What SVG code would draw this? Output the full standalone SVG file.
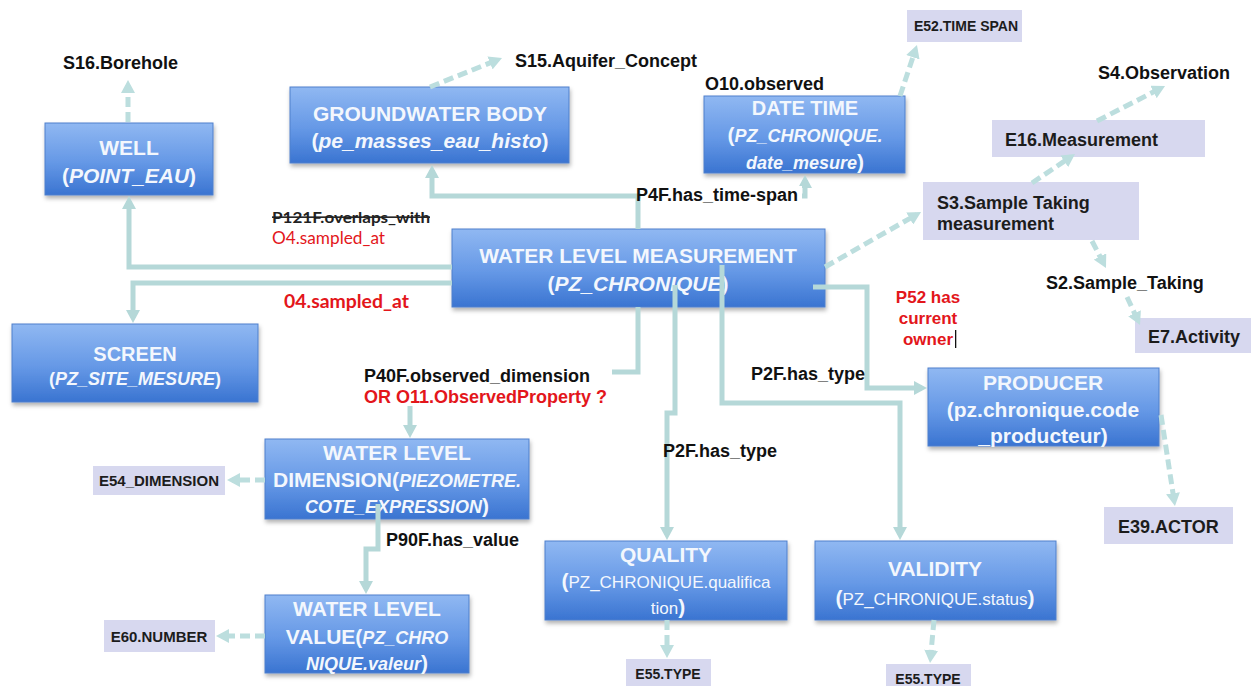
<svg xmlns="http://www.w3.org/2000/svg" width="1251" height="686" viewBox="0 0 1251 686">
  <defs>
    <linearGradient id="blueFill" x1="0" y1="0" x2="0" y2="1">
      <stop offset="0" stop-color="#90b8f2"/>
      <stop offset="0.55" stop-color="#6598e6"/>
      <stop offset="1" stop-color="#3a74d1"/>
    </linearGradient>
    <filter id="shadow" x="-5%" y="-10%" width="112%" height="135%">
      <feDropShadow dx="1" dy="3" stdDeviation="2" flood-color="#000" flood-opacity="0.3"/>
    </filter>
    <marker id="arrow" viewBox="0 0 13 14" refX="8" refY="7" markerWidth="13" markerHeight="14" markerUnits="userSpaceOnUse" orient="auto">
      <path d="M0,0 L13,7 L0,14 Z" fill="#b5d8d8"/>
    </marker>
    <marker id="arrowDash" viewBox="0 0 13 14" refX="8" refY="7" markerWidth="13" markerHeight="14" markerUnits="userSpaceOnUse" orient="auto">
      <path d="M0,0 L13,7 L0,14 Z" fill="#bcdede"/>
    </marker>
  </defs>
  <style>
    .box { fill: url(#blueFill); stroke: #4f80cc; stroke-width: 1; filter: url(#shadow); }
    .tag { fill: #d7d8ef; }
    .t { font-family: "Liberation Sans", Arial, sans-serif; font-weight: bold; font-size: 21px; fill: #f3f7fd; text-anchor: middle; }
    .i { font-style: italic; }
    .n { font-weight: normal; }
    .lbl { font-family: "Liberation Sans", Arial, sans-serif; font-weight: bold; font-size: 18px; fill: #111; }
    .tt { font-family: "Liberation Sans", Arial, sans-serif; font-weight: bold; fill: #1c1c1c; }
    .red { fill: #e3161b; }
    .cal { font-family: Lato, "Open Sans", sans-serif; }
    .solid { fill: none; stroke: #b5d8d8; stroke-width: 5; marker-end: url(#arrow); }
    .dash { fill: none; stroke: #bcdede; stroke-width: 5; stroke-dasharray: 10 5; marker-end: url(#arrowDash); }
  </style>
  <rect width="1251" height="686" fill="#ffffff"/>

  <!-- main nodes -->
  <g id="well">
    <rect class="box" x="45" y="123" width="168" height="72"/>
    <text class="t" x="129" y="155">WELL</text>
    <text class="t" x="129" y="183">(<tspan class="i">POINT_EAU</tspan>)</text>
  </g>
  <g id="groundwater-body">
    <rect class="box" x="290" y="87" width="279" height="76"/>
    <text class="t" x="430" y="120.5">GROUNDWATER BODY</text>
    <text class="t" x="430" y="147.5">(<tspan class="i">pe_masses_eau_histo</tspan>)</text>
  </g>
  <g id="date-time">
    <rect class="box" x="704" y="96" width="201" height="77"/>
    <text class="t" x="805" y="115" style="font-size:20px">DATE TIME</text>
    <text class="t" x="805" y="141.5">(<tspan class="i" style="font-size:18px">PZ_CHRONIQUE.</tspan></text>
    <text class="t" x="805" y="168.5"><tspan class="i" style="font-size:18px">date_mesure</tspan>)</text>
  </g>
  <g id="water-level-measurement">
    <rect class="box" x="452" y="229" width="373" height="78"/>
    <text class="t" x="638" y="262.5">WATER LEVEL MEASUREMENT</text>
    <text class="t" x="638" y="290.5">(<tspan class="i">PZ_CHRONIQUE</tspan>)</text>
  </g>
  <g id="screen">
    <rect class="box" x="12" y="324" width="246" height="78"/>
    <text class="t" x="135" y="361" style="font-size:20px">SCREEN</text>
    <text class="t" x="135" y="384.5" style="font-size:18px">(<tspan class="i">PZ_SITE_MESURE</tspan>)</text>
  </g>
  <g id="producer">
    <rect class="box" x="928" y="368" width="231" height="78"/>
    <text class="t" x="1043" y="389.5">PRODUCER</text>
    <text class="t" x="1043" y="416.5">(pz.chronique.code</text>
    <text class="t" x="1043" y="442.5">_producteur)</text>
  </g>
  <g id="water-level-dimension">
    <rect class="box" x="265" y="439" width="264" height="80"/>
    <text class="t" x="397" y="459.5">WATER LEVEL</text>
    <text class="t" x="397" y="486.5">DIMENSION(<tspan class="i" style="font-size:18px">PIEZOMETRE.</tspan></text>
    <text class="t" x="397" y="512.5"><tspan class="i" style="font-size:18px">COTE_EXPRESSION</tspan>)</text>
  </g>
  <g id="water-level-value">
    <rect class="box" x="265" y="595" width="204" height="78"/>
    <text class="t" x="367" y="615.5">WATER LEVEL</text>
    <text class="t" x="367" y="644">VALUE(<tspan class="i" style="font-size:18px">PZ_CHRO</tspan></text>
    <text class="t" x="367" y="670"><tspan class="i" style="font-size:18px">NIQUE.valeur</tspan>)</text>
  </g>
  <g id="quality">
    <rect class="box" x="545" y="541" width="242" height="79"/>
    <text class="t" x="666" y="561.5">QUALITY</text>
    <text class="t" x="666" y="588">(<tspan class="n" style="font-size:17px">PZ_CHRONIQUE.qualifica</tspan></text>
    <text class="t" x="668" y="614"><tspan class="n" style="font-size:17px">tion</tspan>)</text>
  </g>
  <g id="validity">
    <rect class="box" x="815" y="541" width="241" height="79"/>
    <text class="t" x="935" y="575.5">VALIDITY</text>
    <text class="t" x="935" y="605">(<tspan class="n" style="font-size:17px">PZ_CHRONIQUE.status</tspan>)</text>
  </g>

  <!-- class tags -->
  <g id="e52-time-span">
    <rect class="tag" x="907" y="10" width="115" height="32"/>
    <text class="tt" x="914" y="31" style="font-size:14px">E52.TIME SPAN</text>
  </g>
  <g id="e16-measurement">
    <rect class="tag" x="992" y="120" width="213" height="37"/>
    <text class="tt" x="1005" y="145.5" style="font-size:18px">E16.Measurement</text>
  </g>
  <g id="s3-sample-taking-measurement">
    <rect class="tag" x="923" y="182" width="216" height="58"/>
    <text class="tt" x="937" y="208.5" style="font-size:18px">S3.Sample Taking</text>
    <text class="tt" x="937" y="229.5" style="font-size:18px">measurement</text>
  </g>
  <g id="e7-activity">
    <rect class="tag" x="1135" y="318" width="116" height="35"/>
    <text class="tt" x="1148" y="342.5" style="font-size:18px">E7.Activity</text>
  </g>
  <g id="e39-actor">
    <rect class="tag" x="1104" y="507" width="129" height="37"/>
    <text class="tt" x="1118" y="532.5" style="font-size:18px">E39.ACTOR</text>
  </g>
  <g id="e54-dimension">
    <rect class="tag" x="93" y="466" width="132" height="29"/>
    <text class="tt" x="159" y="485.5" style="font-size:15px" text-anchor="middle">E54_DIMENSION</text>
  </g>
  <g id="e60-number">
    <rect class="tag" x="104" y="620" width="111" height="32"/>
    <text class="tt" x="159" y="641.5" style="font-size:15px" text-anchor="middle">E60.NUMBER</text>
  </g>
  <g id="e55-type-quality">
    <rect class="tag" x="626" y="659" width="85" height="32"/>
    <text class="tt" x="668" y="679" style="font-size:14px" text-anchor="middle">E55.TYPE</text>
  </g>
  <g id="e55-type-validity">
    <rect class="tag" x="886" y="664" width="85" height="32"/>
    <text class="tt" x="928" y="684" style="font-size:14px" text-anchor="middle">E55.TYPE</text>
  </g>

  <!-- connectors -->
  <g id="connectors">
    <path class="solid" d="M452,267 H129 V201"/>
    <path class="solid" d="M452,283 H133 V318"/>
    <path class="solid" d="M638,229 V196 H432 V170"/>
    <path class="solid" d="M638,196 H805 V180"/>
    <path class="solid" d="M638,307 V372 H410 V433"/>
    <path class="solid" d="M675,285 V413 H667 V535"/>
    <path class="solid" d="M722,265 V403 H900 V535"/>
    <path class="solid" d="M813,287 H867 V388 H922"/>
    <path class="solid" d="M378,504 V549 H366 V589"/>

    <path class="dash" d="M128,122 L128,85"/>
    <path class="dash" d="M430,87 L497.4,59.9"/>
    <path class="dash" d="M900,96 L915.4,49.7"/>
    <path class="dash" d="M825,267 L916.7,214.5"/>
    <path class="dash" d="M1032,183 L1070.9,156.8"/>
    <path class="dash" d="M1097,121 L1160.6,88.3"/>
    <path class="dash" d="M1092,241 L1103.7,263.6"/>
    <path class="dash" d="M1127,297 L1137.9,320.5"/>
    <path class="dash" d="M1161,415 L1174.2,501.1"/>
    <path class="dash" d="M265,480 L232,480"/>
    <path class="dash" d="M265,636 L221,636"/>
    <path class="dash" d="M667,620 L667,653"/>
    <path class="dash" d="M934,620 L930.5,658"/>
  </g>

  <!-- relation labels -->
  <g id="labels">
    <text class="lbl" x="63" y="68.5">S16.Borehole</text>
    <text class="lbl" x="515" y="66.5">S15.Aquifer_Concept</text>
    <text class="lbl" x="705" y="89.5">O10.observed</text>
    <text class="lbl" x="1098" y="78.5">S4.Observation</text>
    <text class="lbl" x="1046" y="288.5">S2.Sample_Taking</text>

    <rect x="641" y="186" width="161" height="17" fill="#ffffff"/>
    <text class="lbl" x="636" y="200.5">P4F.has_time-span</text>

    <text class="cal" x="272" y="222.5" style="font-size:16px;font-weight:bold;fill:#222" text-decoration="line-through" textLength="158" lengthAdjust="spacingAndGlyphs">P121F.overlaps_with</text>
    <text class="cal red" x="272" y="244" style="font-size:17px" textLength="113" lengthAdjust="spacingAndGlyphs">O4.sampled_at</text>
    <text class="cal red" x="284" y="308" style="font-size:18px;font-weight:bold" textLength="125" lengthAdjust="spacingAndGlyphs">04.sampled_at</text>

    <rect x="362" y="364" width="250" height="42" fill="#ffffff"/>
    <text class="lbl" x="364" y="381.5">P40F.observed_dimension</text>
    <text class="lbl red" x="364" y="402.5">OR O11.ObservedProperty ?</text>

    <text class="lbl" x="751" y="379.5">P2F.has_type</text>
    <text class="lbl" x="663" y="456.5">P2F.has_type</text>
    <text class="lbl" x="386" y="545.5">P90F.has_value</text>

    <text class="lbl red" x="928" y="303" text-anchor="middle" style="font-size:17px">P52 has</text>
    <text class="lbl red" x="928" y="324" text-anchor="middle" style="font-size:17px">current</text>
    <text class="lbl red" x="928" y="345" text-anchor="middle" style="font-size:17px">owner</text>
    <rect x="955" y="330" width="1.3" height="18" fill="#111"/>
  </g>
</svg>
